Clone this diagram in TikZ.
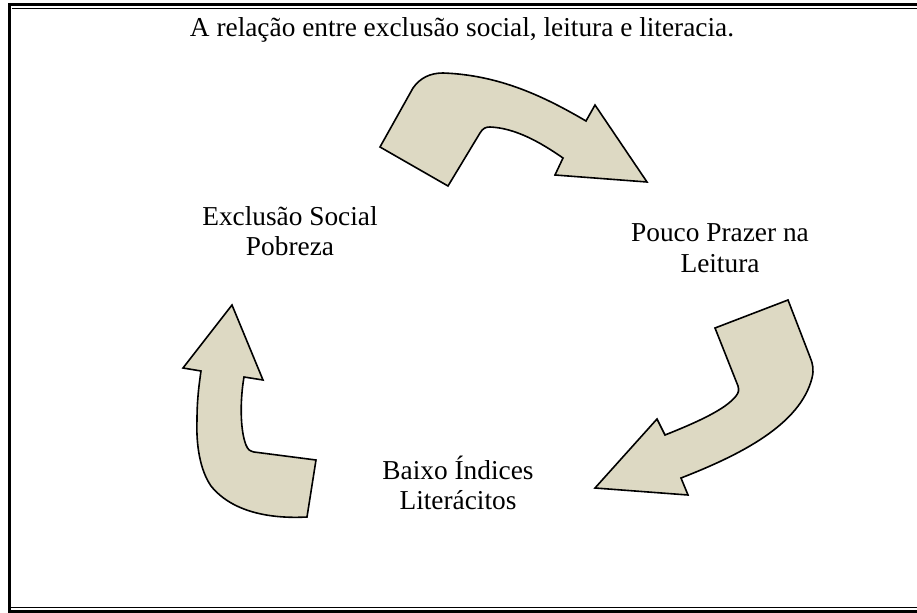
\documentclass[tikz,border=0pt]{standalone}
\usepackage{fontspec}
\setmainfont{Liberation Serif}

\tikzset{every picture/.style={line width=0.75pt}}
\definecolor{arrowfill}{RGB}{221,217,195}
\tikzset{
  curvedarrow/.style={draw=black, fill=arrowfill, line width=1.2pt, line join=miter},
  cyclelabel/.style={inner sep=0.75pt, align=center, font=\fontsize{20.5}{23}\selectfont},
}

\begin{document}
\begin{tikzpicture}[x=0.75pt,y=0.75pt,yscale=-1,xscale=1]
\useasboundingbox (0,0) rectangle (917,613);

%Frame lines
\draw [line width=2.25pt] (8,5) -- (917,5) ;
\draw [line width=0.75pt] (11.5,8.5) -- (917,8.5) ;
\draw [line width=2.25pt] (9.5,4) -- (9.5,610) ;
\draw [line width=0.75pt] (11,607.5) -- (917,607.5) ;
\draw [line width=2.25pt] (8,611.5) -- (917,611.5) ;

%Shape: Curved Arrow (top)
\draw [curvedarrow] (380,147) -- (448,186) -- (480,133) .. controls (483,128) and (486,127) .. (490,127) .. controls (515,128) and (540,142) .. (563,158) -- (555,175) -- (647,182) -- (595,105) -- (586,121) .. controls (545,97) and (500,75) .. (443,73) .. controls (430,73) and (420,78) .. (413,88) -- cycle ;
%Shape: Curved Arrow (right)
\draw [curvedarrow] (715,328) -- (788,300) -- (810,357) .. controls (813,364) and (814,370) .. (812,378) .. controls (800,425) and (740,455) .. (681,478) -- (688,495) -- (595,488) -- (657,419) -- (665,435) .. controls (695,423) and (725,410) .. (736,396) .. controls (739,392) and (739,390) .. (738,386) -- cycle ;
%Shape: Curved Arrow (left)
\draw [curvedarrow] (232,305) -- (263,380) -- (244,377) .. controls (240,400) and (240,430) .. (246,445) .. controls (248,450) and (250,451) .. (254,452) -- (316,460) -- (307,517) .. controls (270,519) and (232,512) .. (211,486) .. controls (200,470) and (196,445) .. (197,420) .. controls (197,400) and (199,385) .. (201,371) -- (183,368) -- cycle ;

% Text Node
\node [inner sep=0.75pt, font=\fontsize{20.5}{24}\selectfont] (title) at (462,30) {A relação entre exclusão social, leitura e literacia.};
% Text Node
\node [cyclelabel] (exclusao) at (290,231) {Exclusão Social\\Pobreza};
% Text Node
\node [cyclelabel] (prazer) at (720,248) {Pouco Prazer na\\Leitura};
% Text Node
\node [cyclelabel] (indices) at (458,483) {Baixo Índices\\Literácitos};

\end{tikzpicture}
\end{document}
